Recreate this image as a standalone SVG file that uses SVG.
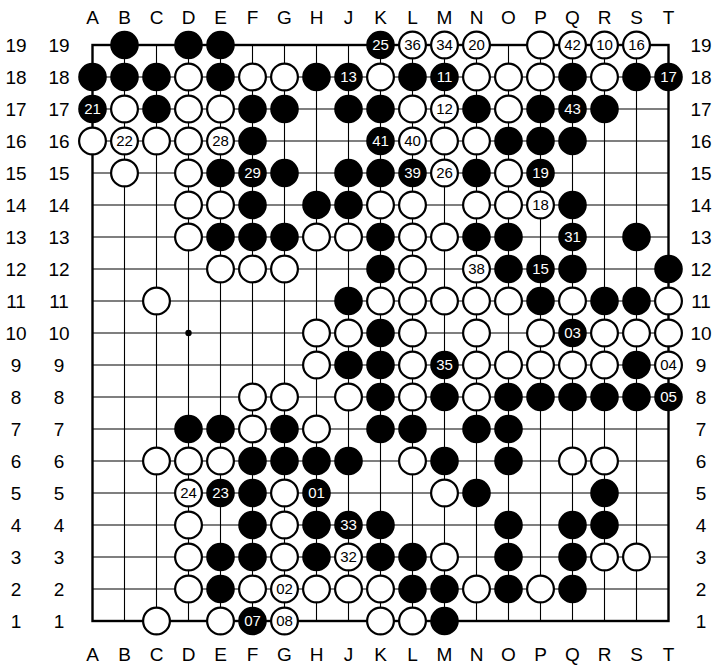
<svg xmlns="http://www.w3.org/2000/svg" width="723" height="670" viewBox="0 0 723 670">
<style>
.lbl{font-family:"Liberation Sans",Arial,sans-serif;font-size:19px;fill:#000;text-anchor:middle}
.grid{stroke:#000;stroke-width:1.1;fill:none}
.border{stroke:#000;stroke-width:2.4;fill:none}
.b circle{fill:#000}
.w circle{fill:#fff;stroke:#000;stroke-width:2.2}
.b text,.w text{font-family:"Liberation Sans",Arial,sans-serif;font-size:15px;text-anchor:middle}
.b text{fill:#fff}
.w text{fill:#000}
</style>
<rect width="723" height="670" fill="#fff"/>
<g id="labels" class="lbl">
<text x="92.5" y="23.5">A</text><text x="124.5" y="23.5">B</text><text x="156.5" y="23.5">C</text><text x="188.5" y="23.5">D</text><text x="220.5" y="23.5">E</text><text x="252.5" y="23.5">F</text><text x="284.5" y="23.5">G</text><text x="316.5" y="23.5">H</text><text x="348.5" y="23.5">J</text><text x="380.5" y="23.5">K</text><text x="412.5" y="23.5">L</text><text x="444.5" y="23.5">M</text><text x="476.5" y="23.5">N</text><text x="508.5" y="23.5">O</text><text x="540.5" y="23.5">P</text><text x="572.5" y="23.5">Q</text><text x="604.5" y="23.5">R</text><text x="636.5" y="23.5">S</text><text x="668.5" y="23.5">T</text>
<text x="92.5" y="661">A</text><text x="124.5" y="661">B</text><text x="156.5" y="661">C</text><text x="188.5" y="661">D</text><text x="220.5" y="661">E</text><text x="252.5" y="661">F</text><text x="284.5" y="661">G</text><text x="316.5" y="661">H</text><text x="348.5" y="661">J</text><text x="380.5" y="661">K</text><text x="412.5" y="661">L</text><text x="444.5" y="661">M</text><text x="476.5" y="661">N</text><text x="508.5" y="661">O</text><text x="540.5" y="661">P</text><text x="572.5" y="661">Q</text><text x="604.5" y="661">R</text><text x="636.5" y="661">S</text><text x="668.5" y="661">T</text>
<text x="16" y="52">19</text><text x="59" y="52">19</text><text x="701" y="52">19</text>
<text x="16" y="84">18</text><text x="59" y="84">18</text><text x="701" y="84">18</text>
<text x="16" y="116">17</text><text x="59" y="116">17</text><text x="701" y="116">17</text>
<text x="16" y="148">16</text><text x="59" y="148">16</text><text x="701" y="148">16</text>
<text x="16" y="180">15</text><text x="59" y="180">15</text><text x="701" y="180">15</text>
<text x="16" y="212">14</text><text x="59" y="212">14</text><text x="701" y="212">14</text>
<text x="16" y="244">13</text><text x="59" y="244">13</text><text x="701" y="244">13</text>
<text x="16" y="276">12</text><text x="59" y="276">12</text><text x="701" y="276">12</text>
<text x="16" y="308">11</text><text x="59" y="308">11</text><text x="701" y="308">11</text>
<text x="16" y="340">10</text><text x="59" y="340">10</text><text x="701" y="340">10</text>
<text x="16" y="372">9</text><text x="59" y="372">9</text><text x="701" y="372">9</text>
<text x="16" y="404">8</text><text x="59" y="404">8</text><text x="701" y="404">8</text>
<text x="16" y="436">7</text><text x="59" y="436">7</text><text x="701" y="436">7</text>
<text x="16" y="468">6</text><text x="59" y="468">6</text><text x="701" y="468">6</text>
<text x="16" y="500">5</text><text x="59" y="500">5</text><text x="701" y="500">5</text>
<text x="16" y="532">4</text><text x="59" y="532">4</text><text x="701" y="532">4</text>
<text x="16" y="564">3</text><text x="59" y="564">3</text><text x="701" y="564">3</text>
<text x="16" y="596">2</text><text x="59" y="596">2</text><text x="701" y="596">2</text>
<text x="16" y="628">1</text><text x="59" y="628">1</text><text x="701" y="628">1</text>
</g>
<g id="board">
<path class="grid" d="M124.5 45V621M156.5 45V621M188.5 45V621M220.5 45V621M252.5 45V621M284.5 45V621M316.5 45V621M348.5 45V621M380.5 45V621M412.5 45V621M444.5 45V621M476.5 45V621M508.5 45V621M540.5 45V621M572.5 45V621M604.5 45V621M636.5 45V621M92.5 77H668.5M92.5 109H668.5M92.5 141H668.5M92.5 173H668.5M92.5 205H668.5M92.5 237H668.5M92.5 269H668.5M92.5 301H668.5M92.5 333H668.5M92.5 365H668.5M92.5 397H668.5M92.5 429H668.5M92.5 461H668.5M92.5 493H668.5M92.5 525H668.5M92.5 557H668.5M92.5 589H668.5"/>
<rect class="border" x="92.5" y="45" width="576" height="576"/>
<circle cx="188.5" cy="333" r="3.2" fill="#000"/>
</g>
<g id="stones">
<g id="B19" class="b"><circle cx="124.5" cy="45" r="14.3"/></g>
<g id="D19" class="b"><circle cx="188.5" cy="45" r="14.3"/></g>
<g id="E19" class="b"><circle cx="220.5" cy="45" r="14.3"/></g>
<g id="K19" class="b"><circle cx="380.5" cy="45" r="14.3"/><text x="380.5" y="50.3">25</text></g>
<g id="L19" class="w"><circle cx="412.5" cy="45" r="13.4"/><text x="412.5" y="50.3">36</text></g>
<g id="M19" class="w"><circle cx="444.5" cy="45" r="13.4"/><text x="444.5" y="50.3">34</text></g>
<g id="N19" class="w"><circle cx="476.5" cy="45" r="13.4"/><text x="476.5" y="50.3">20</text></g>
<g id="P19" class="w"><circle cx="540.5" cy="45" r="13.4"/></g>
<g id="Q19" class="w"><circle cx="572.5" cy="45" r="13.4"/><text x="572.5" y="50.3">42</text></g>
<g id="R19" class="w"><circle cx="604.5" cy="45" r="13.4"/><text x="604.5" y="50.3">10</text></g>
<g id="S19" class="w"><circle cx="636.5" cy="45" r="13.4"/><text x="636.5" y="50.3">16</text></g>

<g id="A18" class="b"><circle cx="92.5" cy="77" r="14.3"/></g>
<g id="B18" class="b"><circle cx="124.5" cy="77" r="14.3"/></g>
<g id="C18" class="b"><circle cx="156.5" cy="77" r="14.3"/></g>
<g id="D18" class="w"><circle cx="188.5" cy="77" r="13.4"/></g>
<g id="E18" class="b"><circle cx="220.5" cy="77" r="14.3"/></g>
<g id="F18" class="w"><circle cx="252.5" cy="77" r="13.4"/></g>
<g id="G18" class="w"><circle cx="284.5" cy="77" r="13.4"/></g>
<g id="H18" class="b"><circle cx="316.5" cy="77" r="14.3"/></g>
<g id="J18" class="b"><circle cx="348.5" cy="77" r="14.3"/><text x="348.5" y="82.3">13</text></g>
<g id="K18" class="w"><circle cx="380.5" cy="77" r="13.4"/></g>
<g id="L18" class="b"><circle cx="412.5" cy="77" r="14.3"/></g>
<g id="M18" class="b"><circle cx="444.5" cy="77" r="14.3"/><text x="444.5" y="82.3">11</text></g>
<g id="N18" class="w"><circle cx="476.5" cy="77" r="13.4"/></g>
<g id="O18" class="w"><circle cx="508.5" cy="77" r="13.4"/></g>
<g id="P18" class="w"><circle cx="540.5" cy="77" r="13.4"/></g>
<g id="Q18" class="b"><circle cx="572.5" cy="77" r="14.3"/></g>
<g id="R18" class="w"><circle cx="604.5" cy="77" r="13.4"/></g>
<g id="S18" class="b"><circle cx="636.5" cy="77" r="14.3"/></g>
<g id="T18" class="b"><circle cx="668.5" cy="77" r="14.3"/><text x="668.5" y="82.3">17</text></g>

<g id="A17" class="b"><circle cx="92.5" cy="109" r="14.3"/><text x="92.5" y="114.3">21</text></g>
<g id="B17" class="w"><circle cx="124.5" cy="109" r="13.4"/></g>
<g id="C17" class="b"><circle cx="156.5" cy="109" r="14.3"/></g>
<g id="D17" class="w"><circle cx="188.5" cy="109" r="13.4"/></g>
<g id="E17" class="w"><circle cx="220.5" cy="109" r="13.4"/></g>
<g id="F17" class="b"><circle cx="252.5" cy="109" r="14.3"/></g>
<g id="G17" class="b"><circle cx="284.5" cy="109" r="14.3"/></g>
<g id="J17" class="b"><circle cx="348.5" cy="109" r="14.3"/></g>
<g id="K17" class="b"><circle cx="380.5" cy="109" r="14.3"/></g>
<g id="L17" class="w"><circle cx="412.5" cy="109" r="13.4"/></g>
<g id="M17" class="w"><circle cx="444.5" cy="109" r="13.4"/><text x="444.5" y="114.3">12</text></g>
<g id="N17" class="b"><circle cx="476.5" cy="109" r="14.3"/></g>
<g id="O17" class="w"><circle cx="508.5" cy="109" r="13.4"/></g>
<g id="P17" class="b"><circle cx="540.5" cy="109" r="14.3"/></g>
<g id="Q17" class="b"><circle cx="572.5" cy="109" r="14.3"/><text x="572.5" y="114.3">43</text></g>
<g id="R17" class="b"><circle cx="604.5" cy="109" r="14.3"/></g>

<g id="A16" class="w"><circle cx="92.5" cy="141" r="13.4"/></g>
<g id="B16" class="w"><circle cx="124.5" cy="141" r="13.4"/><text x="124.5" y="146.3">22</text></g>
<g id="C16" class="w"><circle cx="156.5" cy="141" r="13.4"/></g>
<g id="D16" class="w"><circle cx="188.5" cy="141" r="13.4"/></g>
<g id="E16" class="w"><circle cx="220.5" cy="141" r="13.4"/><text x="220.5" y="146.3">28</text></g>
<g id="F16" class="b"><circle cx="252.5" cy="141" r="14.3"/></g>
<g id="K16" class="b"><circle cx="380.5" cy="141" r="14.3"/><text x="380.5" y="146.3">41</text></g>
<g id="L16" class="w"><circle cx="412.5" cy="141" r="13.4"/><text x="412.5" y="146.3">40</text></g>
<g id="M16" class="w"><circle cx="444.5" cy="141" r="13.4"/></g>
<g id="N16" class="w"><circle cx="476.5" cy="141" r="13.4"/></g>
<g id="O16" class="b"><circle cx="508.5" cy="141" r="14.3"/></g>
<g id="P16" class="b"><circle cx="540.5" cy="141" r="14.3"/></g>
<g id="Q16" class="b"><circle cx="572.5" cy="141" r="14.3"/></g>

<g id="B15" class="w"><circle cx="124.5" cy="173" r="13.4"/></g>
<g id="D15" class="w"><circle cx="188.5" cy="173" r="13.4"/></g>
<g id="E15" class="b"><circle cx="220.5" cy="173" r="14.3"/></g>
<g id="F15" class="b"><circle cx="252.5" cy="173" r="14.3"/><text x="252.5" y="178.3">29</text></g>
<g id="G15" class="b"><circle cx="284.5" cy="173" r="14.3"/></g>
<g id="J15" class="b"><circle cx="348.5" cy="173" r="14.3"/></g>
<g id="K15" class="b"><circle cx="380.5" cy="173" r="14.3"/></g>
<g id="L15" class="b"><circle cx="412.5" cy="173" r="14.3"/><text x="412.5" y="178.3">39</text></g>
<g id="M15" class="w"><circle cx="444.5" cy="173" r="13.4"/><text x="444.5" y="178.3">26</text></g>
<g id="N15" class="b"><circle cx="476.5" cy="173" r="14.3"/></g>
<g id="O15" class="w"><circle cx="508.5" cy="173" r="13.4"/></g>
<g id="P15" class="b"><circle cx="540.5" cy="173" r="14.3"/><text x="540.5" y="178.3">19</text></g>

<g id="D14" class="w"><circle cx="188.5" cy="205" r="13.4"/></g>
<g id="E14" class="w"><circle cx="220.5" cy="205" r="13.4"/></g>
<g id="F14" class="b"><circle cx="252.5" cy="205" r="14.3"/></g>
<g id="H14" class="b"><circle cx="316.5" cy="205" r="14.3"/></g>
<g id="J14" class="b"><circle cx="348.5" cy="205" r="14.3"/></g>
<g id="K14" class="w"><circle cx="380.5" cy="205" r="13.4"/></g>
<g id="L14" class="w"><circle cx="412.5" cy="205" r="13.4"/></g>
<g id="N14" class="w"><circle cx="476.5" cy="205" r="13.4"/></g>
<g id="O14" class="w"><circle cx="508.5" cy="205" r="13.4"/></g>
<g id="P14" class="w"><circle cx="540.5" cy="205" r="13.4"/><text x="540.5" y="210.3">18</text></g>
<g id="Q14" class="b"><circle cx="572.5" cy="205" r="14.3"/></g>

<g id="D13" class="w"><circle cx="188.5" cy="237" r="13.4"/></g>
<g id="E13" class="b"><circle cx="220.5" cy="237" r="14.3"/></g>
<g id="F13" class="b"><circle cx="252.5" cy="237" r="14.3"/></g>
<g id="G13" class="b"><circle cx="284.5" cy="237" r="14.3"/></g>
<g id="H13" class="w"><circle cx="316.5" cy="237" r="13.4"/></g>
<g id="J13" class="w"><circle cx="348.5" cy="237" r="13.4"/></g>
<g id="K13" class="b"><circle cx="380.5" cy="237" r="14.3"/></g>
<g id="L13" class="w"><circle cx="412.5" cy="237" r="13.4"/></g>
<g id="M13" class="w"><circle cx="444.5" cy="237" r="13.4"/></g>
<g id="N13" class="b"><circle cx="476.5" cy="237" r="14.3"/></g>
<g id="O13" class="b"><circle cx="508.5" cy="237" r="14.3"/></g>
<g id="Q13" class="b"><circle cx="572.5" cy="237" r="14.3"/><text x="572.5" y="242.3">31</text></g>
<g id="S13" class="b"><circle cx="636.5" cy="237" r="14.3"/></g>

<g id="E12" class="w"><circle cx="220.5" cy="269" r="13.4"/></g>
<g id="F12" class="w"><circle cx="252.5" cy="269" r="13.4"/></g>
<g id="G12" class="w"><circle cx="284.5" cy="269" r="13.4"/></g>
<g id="K12" class="b"><circle cx="380.5" cy="269" r="14.3"/></g>
<g id="L12" class="w"><circle cx="412.5" cy="269" r="13.4"/></g>
<g id="N12" class="w"><circle cx="476.5" cy="269" r="13.4"/><text x="476.5" y="274.3">38</text></g>
<g id="O12" class="b"><circle cx="508.5" cy="269" r="14.3"/></g>
<g id="P12" class="b"><circle cx="540.5" cy="269" r="14.3"/><text x="540.5" y="274.3">15</text></g>
<g id="Q12" class="b"><circle cx="572.5" cy="269" r="14.3"/></g>
<g id="T12" class="b"><circle cx="668.5" cy="269" r="14.3"/></g>

<g id="C11" class="w"><circle cx="156.5" cy="301" r="13.4"/></g>
<g id="J11" class="b"><circle cx="348.5" cy="301" r="14.3"/></g>
<g id="K11" class="w"><circle cx="380.5" cy="301" r="13.4"/></g>
<g id="L11" class="w"><circle cx="412.5" cy="301" r="13.4"/></g>
<g id="M11" class="w"><circle cx="444.5" cy="301" r="13.4"/></g>
<g id="N11" class="w"><circle cx="476.5" cy="301" r="13.4"/></g>
<g id="O11" class="w"><circle cx="508.5" cy="301" r="13.4"/></g>
<g id="P11" class="b"><circle cx="540.5" cy="301" r="14.3"/></g>
<g id="Q11" class="w"><circle cx="572.5" cy="301" r="13.4"/></g>
<g id="R11" class="b"><circle cx="604.5" cy="301" r="14.3"/></g>
<g id="S11" class="b"><circle cx="636.5" cy="301" r="14.3"/></g>
<g id="T11" class="w"><circle cx="668.5" cy="301" r="13.4"/></g>

<g id="H10" class="w"><circle cx="316.5" cy="333" r="13.4"/></g>
<g id="J10" class="w"><circle cx="348.5" cy="333" r="13.4"/></g>
<g id="K10" class="b"><circle cx="380.5" cy="333" r="14.3"/></g>
<g id="L10" class="w"><circle cx="412.5" cy="333" r="13.4"/></g>
<g id="N10" class="w"><circle cx="476.5" cy="333" r="13.4"/></g>
<g id="P10" class="w"><circle cx="540.5" cy="333" r="13.4"/></g>
<g id="Q10" class="b"><circle cx="572.5" cy="333" r="14.3"/><text x="572.5" y="338.3">03</text></g>
<g id="R10" class="w"><circle cx="604.5" cy="333" r="13.4"/></g>
<g id="S10" class="w"><circle cx="636.5" cy="333" r="13.4"/></g>
<g id="T10" class="w"><circle cx="668.5" cy="333" r="13.4"/></g>

<g id="H9" class="w"><circle cx="316.5" cy="365" r="13.4"/></g>
<g id="J9" class="b"><circle cx="348.5" cy="365" r="14.3"/></g>
<g id="K9" class="b"><circle cx="380.5" cy="365" r="14.3"/></g>
<g id="L9" class="w"><circle cx="412.5" cy="365" r="13.4"/></g>
<g id="M9" class="b"><circle cx="444.5" cy="365" r="14.3"/><text x="444.5" y="370.3">35</text></g>
<g id="N9" class="w"><circle cx="476.5" cy="365" r="13.4"/></g>
<g id="O9" class="w"><circle cx="508.5" cy="365" r="13.4"/></g>
<g id="P9" class="w"><circle cx="540.5" cy="365" r="13.4"/></g>
<g id="Q9" class="w"><circle cx="572.5" cy="365" r="13.4"/></g>
<g id="R9" class="w"><circle cx="604.5" cy="365" r="13.4"/></g>
<g id="S9" class="b"><circle cx="636.5" cy="365" r="14.3"/></g>
<g id="T9" class="w"><circle cx="668.5" cy="365" r="13.4"/><text x="668.5" y="370.3">04</text></g>

<g id="F8" class="w"><circle cx="252.5" cy="397" r="13.4"/></g>
<g id="G8" class="w"><circle cx="284.5" cy="397" r="13.4"/></g>
<g id="J8" class="w"><circle cx="348.5" cy="397" r="13.4"/></g>
<g id="K8" class="b"><circle cx="380.5" cy="397" r="14.3"/></g>
<g id="L8" class="w"><circle cx="412.5" cy="397" r="13.4"/></g>
<g id="M8" class="b"><circle cx="444.5" cy="397" r="14.3"/></g>
<g id="N8" class="w"><circle cx="476.5" cy="397" r="13.4"/></g>
<g id="O8" class="b"><circle cx="508.5" cy="397" r="14.3"/></g>
<g id="P8" class="b"><circle cx="540.5" cy="397" r="14.3"/></g>
<g id="Q8" class="b"><circle cx="572.5" cy="397" r="14.3"/></g>
<g id="R8" class="b"><circle cx="604.5" cy="397" r="14.3"/></g>
<g id="S8" class="b"><circle cx="636.5" cy="397" r="14.3"/></g>
<g id="T8" class="b"><circle cx="668.5" cy="397" r="14.3"/><text x="668.5" y="402.3">05</text></g>

<g id="D7" class="b"><circle cx="188.5" cy="429" r="14.3"/></g>
<g id="E7" class="b"><circle cx="220.5" cy="429" r="14.3"/></g>
<g id="F7" class="w"><circle cx="252.5" cy="429" r="13.4"/></g>
<g id="G7" class="b"><circle cx="284.5" cy="429" r="14.3"/></g>
<g id="H7" class="w"><circle cx="316.5" cy="429" r="13.4"/></g>
<g id="K7" class="b"><circle cx="380.5" cy="429" r="14.3"/></g>
<g id="L7" class="b"><circle cx="412.5" cy="429" r="14.3"/></g>
<g id="N7" class="b"><circle cx="476.5" cy="429" r="14.3"/></g>
<g id="O7" class="b"><circle cx="508.5" cy="429" r="14.3"/></g>

<g id="C6" class="w"><circle cx="156.5" cy="461" r="13.4"/></g>
<g id="D6" class="w"><circle cx="188.5" cy="461" r="13.4"/></g>
<g id="E6" class="w"><circle cx="220.5" cy="461" r="13.4"/></g>
<g id="F6" class="b"><circle cx="252.5" cy="461" r="14.3"/></g>
<g id="G6" class="b"><circle cx="284.5" cy="461" r="14.3"/></g>
<g id="H6" class="b"><circle cx="316.5" cy="461" r="14.3"/></g>
<g id="J6" class="b"><circle cx="348.5" cy="461" r="14.3"/></g>
<g id="L6" class="w"><circle cx="412.5" cy="461" r="13.4"/></g>
<g id="M6" class="b"><circle cx="444.5" cy="461" r="14.3"/></g>
<g id="O6" class="b"><circle cx="508.5" cy="461" r="14.3"/></g>
<g id="Q6" class="w"><circle cx="572.5" cy="461" r="13.4"/></g>
<g id="R6" class="w"><circle cx="604.5" cy="461" r="13.4"/></g>

<g id="D5" class="w"><circle cx="188.5" cy="493" r="13.4"/><text x="188.5" y="498.3">24</text></g>
<g id="E5" class="b"><circle cx="220.5" cy="493" r="14.3"/><text x="220.5" y="498.3">23</text></g>
<g id="F5" class="b"><circle cx="252.5" cy="493" r="14.3"/></g>
<g id="G5" class="w"><circle cx="284.5" cy="493" r="13.4"/></g>
<g id="H5" class="b"><circle cx="316.5" cy="493" r="14.3"/><text x="316.5" y="498.3">01</text></g>
<g id="M5" class="w"><circle cx="444.5" cy="493" r="13.4"/></g>
<g id="N5" class="b"><circle cx="476.5" cy="493" r="14.3"/></g>
<g id="R5" class="b"><circle cx="604.5" cy="493" r="14.3"/></g>

<g id="D4" class="w"><circle cx="188.5" cy="525" r="13.4"/></g>
<g id="F4" class="b"><circle cx="252.5" cy="525" r="14.3"/></g>
<g id="G4" class="w"><circle cx="284.5" cy="525" r="13.4"/></g>
<g id="H4" class="b"><circle cx="316.5" cy="525" r="14.3"/></g>
<g id="J4" class="b"><circle cx="348.5" cy="525" r="14.3"/><text x="348.5" y="530.3">33</text></g>
<g id="K4" class="b"><circle cx="380.5" cy="525" r="14.3"/></g>
<g id="O4" class="b"><circle cx="508.5" cy="525" r="14.3"/></g>
<g id="Q4" class="b"><circle cx="572.5" cy="525" r="14.3"/></g>
<g id="R4" class="b"><circle cx="604.5" cy="525" r="14.3"/></g>

<g id="D3" class="w"><circle cx="188.5" cy="557" r="13.4"/></g>
<g id="E3" class="b"><circle cx="220.5" cy="557" r="14.3"/></g>
<g id="F3" class="b"><circle cx="252.5" cy="557" r="14.3"/></g>
<g id="G3" class="w"><circle cx="284.5" cy="557" r="13.4"/></g>
<g id="H3" class="b"><circle cx="316.5" cy="557" r="14.3"/></g>
<g id="J3" class="w"><circle cx="348.5" cy="557" r="13.4"/><text x="348.5" y="562.3">32</text></g>
<g id="K3" class="b"><circle cx="380.5" cy="557" r="14.3"/></g>
<g id="L3" class="b"><circle cx="412.5" cy="557" r="14.3"/></g>
<g id="M3" class="w"><circle cx="444.5" cy="557" r="13.4"/></g>
<g id="O3" class="b"><circle cx="508.5" cy="557" r="14.3"/></g>
<g id="Q3" class="b"><circle cx="572.5" cy="557" r="14.3"/></g>
<g id="R3" class="w"><circle cx="604.5" cy="557" r="13.4"/></g>
<g id="S3" class="w"><circle cx="636.5" cy="557" r="13.4"/></g>

<g id="D2" class="w"><circle cx="188.5" cy="589" r="13.4"/></g>
<g id="E2" class="b"><circle cx="220.5" cy="589" r="14.3"/></g>
<g id="F2" class="w"><circle cx="252.5" cy="589" r="13.4"/></g>
<g id="G2" class="w"><circle cx="284.5" cy="589" r="13.4"/><text x="284.5" y="594.3">02</text></g>
<g id="H2" class="w"><circle cx="316.5" cy="589" r="13.4"/></g>
<g id="J2" class="w"><circle cx="348.5" cy="589" r="13.4"/></g>
<g id="K2" class="w"><circle cx="380.5" cy="589" r="13.4"/></g>
<g id="L2" class="b"><circle cx="412.5" cy="589" r="14.3"/></g>
<g id="M2" class="b"><circle cx="444.5" cy="589" r="14.3"/></g>
<g id="N2" class="w"><circle cx="476.5" cy="589" r="13.4"/></g>
<g id="O2" class="b"><circle cx="508.5" cy="589" r="14.3"/></g>
<g id="P2" class="w"><circle cx="540.5" cy="589" r="13.4"/></g>
<g id="Q2" class="b"><circle cx="572.5" cy="589" r="14.3"/></g>

<g id="C1" class="w"><circle cx="156.5" cy="621" r="13.4"/></g>
<g id="E1" class="w"><circle cx="220.5" cy="621" r="13.4"/></g>
<g id="F1" class="b"><circle cx="252.5" cy="621" r="14.3"/><text x="252.5" y="626.3">07</text></g>
<g id="G1" class="w"><circle cx="284.5" cy="621" r="13.4"/><text x="284.5" y="626.3">08</text></g>
<g id="K1" class="w"><circle cx="380.5" cy="621" r="13.4"/></g>
<g id="L1" class="w"><circle cx="412.5" cy="621" r="13.4"/></g>
<g id="M1" class="b"><circle cx="444.5" cy="621" r="14.3"/></g>
</g>
</svg>
